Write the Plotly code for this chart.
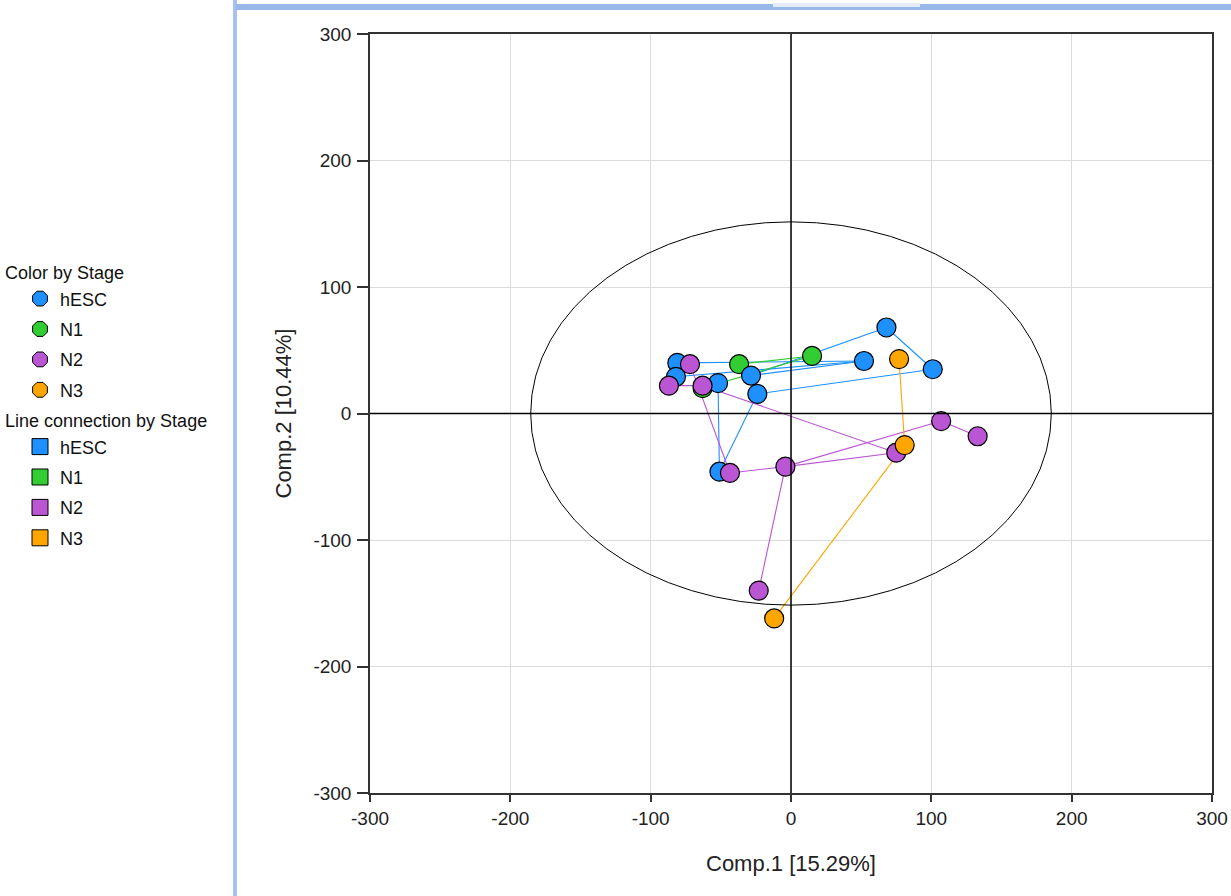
import plotly.graph_objects as go

# ---------------- data ----------------
stages = ["hESC", "N1", "N2", "N3"]
stage_colors = ["#1E90FF", "#32CD32", "#BA55D3", "#FFA500"]

hesc_x = [68, 52, 101, -81, -82, -28.5, -52, -24, -51]
hesc_y = [68, 41.5, 35, 40, 29, 30, 24, 15.5, -46]

n1_x = [15, -37, -63]
n1_y = [45.5, 39, 20]

n2_x = [-72, -87, -63, 107, 133, 75, -43.5, -4, -23]
n2_y = [39, 22, 22, -6, -18, -31, -47, -42, -140]

n3_x = [77, 81, -12]
n3_y = [43, -25, -162]

# line connections (index pairs within each stage)
hesc_links = [(3, 1), (1, 5), (1, 4), (0, 5), (0, 2), (2, 7), (6, 8), (7, 8)]
n1_links = [(1, 0), (0, 2)]
n2_links = [(1, 2), (2, 5), (0, 6), (6, 7), (7, 3), (3, 4), (7, 5), (7, 8)]
n3_links = [(0, 1), (1, 2)]

ellipse_rx = 185.5
ellipse_ry = 151.5

x_title = "Comp.1 [15.29%]"
y_title = "Comp.2 [10.44%]"
axis_range = [-300, 300]
tick_vals = [-300, -200, -100, 0, 100, 200, 300]
tick_text = ["-300", "-200", "-100", "0", "100", "200", "300"]

groups = [
    (hesc_x, hesc_y, hesc_links),
    (n1_x, n1_y, n1_links),
    (n2_x, n2_y, n2_links),
    (n3_x, n3_y, n3_links),
]

FONT = "Liberation Sans, Arial, sans-serif"
fig = go.Figure()

# connection lines
for (xs, ys, links), col in zip(groups, stage_colors):
    lx, ly = [], []
    for a, b in links:
        lx += [xs[a], xs[b], None]
        ly += [ys[a], ys[b], None]
    fig.add_trace(go.Scatter(x=lx, y=ly, mode="lines",
                             line=dict(color=col, width=1.1),
                             showlegend=False, hoverinfo="skip"))

# markers (draw order: N1, hESC, N2, N3)
for i in [1, 0, 2, 3]:
    xs, ys, _ = groups[i]
    fig.add_trace(go.Scatter(x=xs, y=ys, mode="markers", name=stages[i],
                             marker=dict(size=19, color=stage_colors[i],
                                         line=dict(color="black", width=1.2)),
                             showlegend=False))

# legend entries
for i, (s, col) in enumerate(zip(stages, stage_colors)):
    fig.add_trace(go.Scatter(
        x=[None], y=[None], mode="markers", name=s,
        marker=dict(symbol="octagon", size=17, color=col,
                    line=dict(color="black", width=1)),
        legendgroup="c" + s,
        legendgrouptitle=dict(text="Color by Stage") if i == 0 else None))
for i, (s, col) in enumerate(zip(stages, stage_colors)):
    fig.add_trace(go.Scatter(
        x=[None], y=[None], mode="markers", name=s,
        marker=dict(symbol="square", size=17, color=col,
                    line=dict(color="black", width=1)),
        legendgroup="l" + s,
        legendgrouptitle=dict(text="Line connection by Stage") if i == 0 else None))

# layout geometry (pixels)
W, H = 1231, 896
L, R, T, B = 370, 1212, 34, 793
pw, ph = R - L, B - T


def px(xp):
    return (xp - L) / pw


def py(yp):
    return (B - yp) / ph


shapes = [
    dict(type="circle", xref="x", yref="y", x0=-ellipse_rx, x1=ellipse_rx,
         y0=-ellipse_ry, y1=ellipse_ry, line=dict(color="black", width=1)),
    dict(type="line", xref="x", yref="y", x0=0, x1=0, y0=axis_range[0], y1=axis_range[1],
         line=dict(color="black", width=1.5), layer="above"),
    dict(type="line", xref="x", yref="y", x0=axis_range[0], x1=axis_range[1], y0=0, y1=0,
         line=dict(color="black", width=1.5), layer="above"),
    # window frame decoration
    dict(type="rect", xref="paper", yref="paper", x0=px(233), x1=px(237),
         y0=py(896), y1=py(0), line=dict(width=0), fillcolor="#A7C2EE", layer="above"),
    dict(type="rect", xref="paper", yref="paper", x0=px(236), x1=px(1231),
         y0=py(10), y1=py(4), line=dict(width=0), fillcolor="#98B8EA", layer="above"),
    dict(type="rect", xref="paper", yref="paper", x0=px(773), x1=px(920),
         y0=py(7), y1=py(3), line=dict(width=0), fillcolor="#E4ECF8", layer="above"),
]

axis_common = dict(
    range=axis_range, tickvals=tick_vals, ticktext=tick_text,
    showgrid=True, gridcolor="#DCDCDC",
    gridwidth=1, zeroline=False, showline=True, linecolor="#333333", linewidth=1.5,
    mirror=True, ticks="outside", tickcolor="#333333", tickwidth=1.5,
    tickfont=dict(family=FONT, size=19, color="#222222"),
    fixedrange=True,
)

fig.update_layout(
    width=W, height=H,
    margin=dict(l=L, r=W - R, t=T, b=H - B, autoexpand=False),
    plot_bgcolor="white", paper_bgcolor="white",
    font=dict(family=FONT, size=18, color="#111111"),
    xaxis=dict(**axis_common, ticklen=7,
               title=dict(text=x_title, standoff=28,
                          font=dict(family=FONT, size=22, color="#222222"))),
    yaxis=dict(**axis_common, ticklen=11, ticklabelstandoff=2,
               title=dict(text=y_title, standoff=16,
                          font=dict(family=FONT, size=22, color="#222222"))),
    shapes=shapes,
    showlegend=True,
    legend=dict(x=px(0), y=py(254), xanchor="left", yanchor="top",
                traceorder="grouped", tracegroupgap=4, indentation=20,
                font=dict(family=FONT, size=18, color="#111111"),
                grouptitlefont=dict(family=FONT, size=18, color="#111111"),
                bgcolor="rgba(0,0,0,0)", itemclick=False, itemdoubleclick=False),
)

fig.write_html("out.html", config={"displayModeBar": False},
               post_script="document.body.style.margin='0px';")
